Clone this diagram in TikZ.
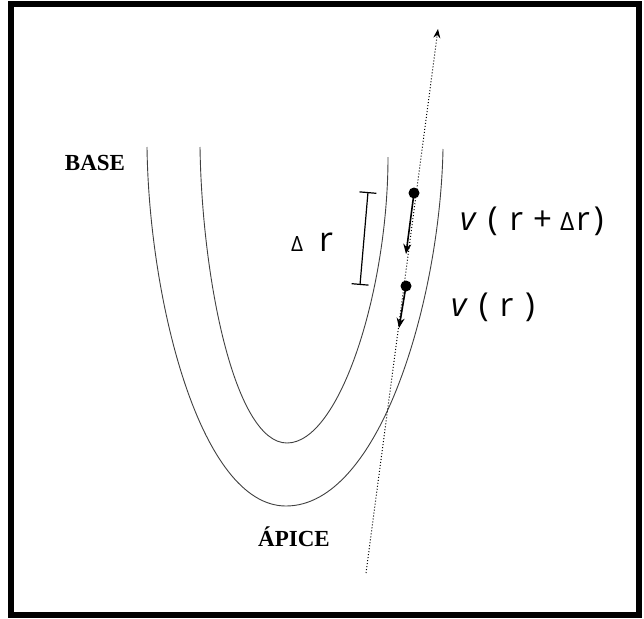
\documentclass[tikz,border=0pt]{standalone}
\usepackage{fontspec}
\newfontfamily\labelfont{Open Sans}
\newfontfamily\zonefont{Liberation Serif}
\usetikzlibrary{arrows.meta,positioning}
\tikzset{
  wall line/.style={line width=0.9pt,black!75},
  axis line/.style={dotted,line width=1pt,-{Stealth[length=9pt,width=7pt]}},
  vel dot/.style={circle,fill,minimum size=11pt,inner sep=0pt},
  vel arrow/.style={line width=1.6pt,-{Stealth[length=10pt,width=8pt]}},
  gap bar/.style={line width=1.2pt,{Bar[width=17pt]}-{Bar[width=17pt]}},
  zone label/.style={font=\zonefont\bfseries\fontsize{23}{23}\selectfont,inner sep=0pt},
  vel label/.style={font=\labelfont\fontsize{33}{33}\selectfont,inner sep=0pt,anchor=west},
}
\newcommand{\smalldelta}[1]{{\fontsize{#1}{#1}\selectfont Δ}}

\begin{document}
\begin{tikzpicture}[x=1pt,y=-1pt]
  \useasboundingbox (0,0) rectangle (644,618);
  \draw[line width=6pt] (11,4) rectangle (639,615);
  % outer and inner walls
  \draw[wall line] (147,147) .. controls (149,300) and (200,506) .. (286,506)
                   .. controls (380,506) and (440,300) .. (443,149);
  \draw[wall line] (200,147) .. controls (202,280) and (235,443) .. (287,443)
                   .. controls (340,443) and (388,290) .. (388,157);
  % axis through the wall
  \coordinate (axis0) at (366,573);
  \coordinate (axis1) at (438,29);
  \draw[axis line] (axis0) -- (axis1);
  % velocities
  \node[vel dot] (d1) at (414,193) {};
  \node[vel dot] (d2) at (406,286) {};
  \coordinate (t1) at (406,254);
  \coordinate (t2) at (399,328);
  \draw[vel arrow] (d1.center) -- (t1);
  \draw[vel arrow] (d2.center) -- (t2);
  \node[vel label] (vdr) at (460,221)
    {\textit{v}\hspace{11pt}(\hspace{12pt}r\hspace{10pt}+\hspace{8pt}\smalldelta{25}\hspace{2pt}r\hspace{4pt})};
  \node[vel label] (vr) at (451,307)
    {\textit{v}\hspace{11pt}(\hspace{11pt}r\hspace{12pt})};
  % radial step
  \coordinate (g1) at (368,192);
  \coordinate (g2) at (360,285);
  \draw[gap bar] (g1) -- (g2);
  \node[font=\labelfont,inner sep=0pt] (dr) at (312,242)
    {\smalldelta{21}\hspace{16pt}{\fontsize{34}{34}\selectfont r}};
  \node[zone label] (base) at (95,163) {BASE};
  \node[zone label] (apex) at (294,537) {ÁPICE};
\end{tikzpicture}
\end{document}
